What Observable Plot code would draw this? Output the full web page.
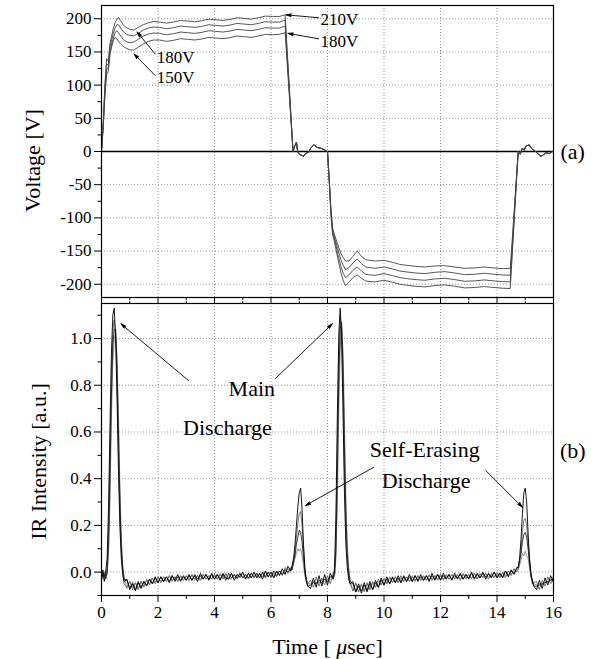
<!DOCTYPE html>
<html><head><meta charset="utf-8">
<script src="https://cdn.jsdelivr.net/npm/d3@7"></script>
<script src="https://cdn.jsdelivr.net/npm/@observablehq/plot@0.6"></script>
<style>
body{margin:0;background:#fff;}
#chart{position:relative;width:595px;height:659px;}
#chart svg{position:absolute;left:0;overflow:visible;}
#chart g[aria-label="arrow"] path{fill:#000 !important;stroke-linejoin:miter;}
</style></head><body><div id="chart"></div>
<script>
// ---------- Panel (a): applied voltage ----------
const tA = [0, 0.06, 0.12, 0.18, 0.24, 0.3, 0.36, 0.42, 0.48, 0.54,
  0.6, 0.68, 0.78, 0.9, 1.02, 1.14, 1.3, 1.48, 1.66, 1.85,
  2.05, 2.3, 2.55, 2.8, 3.05, 3.3, 3.55, 3.8, 4.05, 4.3,
  4.55, 4.8, 5.05, 5.3, 5.55, 5.8, 6.05, 6.3, 6.5, 6.78,
  6.83, 6.9, 6.95, 7.04, 7.16, 7.22, 7.34, 7.4, 7.52, 7.64,
  7.75, 7.87, 8.0, 8.06, 8.12, 8.18, 8.24, 8.3, 8.36, 8.42,
  8.48, 8.56, 8.64, 8.76, 8.9, 9.05, 9.2, 9.35, 9.5, 9.7,
  10.0, 10.3, 10.55, 10.8, 11.1, 11.45, 11.8, 12.15, 12.5, 12.85,
  13.2, 13.55, 13.9, 14.2, 14.47, 14.75, 14.82, 14.9, 14.96, 15.02,
  15.14, 15.2, 15.26, 15.37, 15.49, 15.55, 15.61, 15.73, 15.85, 15.97,
  16.0];
const va1 = [0, 42, 100, 140, 136, 163, 174, 186, 194, 199,
  202, 197, 190, 186, 184, 183, 187, 191, 194, 196,
  195, 193.5, 195, 197.5, 196.5, 195.5, 197, 199.5, 198.5, 197.5,
  199, 201.5, 200.5, 199.5, 201.5, 204, 203.5, 203.5, 206, 0,
  7, 14, -2, -5, -7, -3, -1, 5, 10, 6,
  5, 3, 0, -45, -95, -125, -135, -148, -160, -172,
  -183, -195, -202, -197, -190, -186, -191, -195, -196, -196.5,
  -194, -197, -200, -201.5, -203, -204, -202, -201, -203, -205.5,
  -205, -203.5, -205, -206, -206.5, 0, -4, 5, 2, 8,
  10, 6, 3, 0, -5, -7, -6, -2, -3, 0,
  0];
const va2 = [0, 40, 94, 132, 130, 157, 168, 178, 186, 191,
  191, 186, 180, 176, 175, 174, 178, 183, 186, 187.5,
  187, 185, 186.5, 189, 188, 187, 188.5, 191, 190, 189,
  190.5, 193, 192, 191, 193, 195.5, 195, 195, 198, 0,
  7, 14, -2, -5, -7, -3, -1, 5, 10, 6,
  5, 3, 0, -43, -92, -122, -131, -142, -153, -164,
  -174, -184, -190, -186, -179, -174, -180, -185, -186, -186.5,
  -184, -187, -190, -191.5, -193, -194, -192, -191, -193, -195.5,
  -195, -193.5, -195, -196, -196.5, 0, -4, 5, 2, 8,
  10, 6, 3, 0, -5, -7, -6, -2, -3, 0,
  0];
const va3 = [0, 38, 88, 124, 125, 151, 162, 171, 179, 182,
  179, 174, 168, 165, 164, 165, 169, 174, 177, 178.5,
  178, 176, 177.5, 180, 179, 178, 179.5, 182, 181, 180,
  181.5, 184, 183, 182, 184, 186.5, 186, 186, 189, 0,
  7, 14, -2, -5, -7, -3, -1, 5, 10, 6,
  5, 3, 0, -41, -89, -119, -128, -137, -146, -155,
  -164, -172, -178, -175, -168, -162, -169, -174, -175, -176,
  -174, -177, -180, -181.5, -183, -184, -182, -181, -183, -185.5,
  -185, -183.5, -185, -186, -186.5, 0, -4, 5, 2, 8,
  10, 6, 3, 0, -5, -7, -6, -2, -3, 0,
  0];
const va4 = [0, 36, 82, 116, 120, 146, 158, 167, 172, 170,
  166, 162, 158, 155, 153, 153, 157, 162, 166, 168,
  168, 166, 167.5, 170, 169, 168, 169.5, 172, 171, 170,
  171.5, 174, 173, 172, 174, 176.5, 176, 176.5, 179, 0,
  7, 14, -2, -5, -7, -3, -1, 5, 10, 6,
  5, 3, 0, -40, -85, -115, -124, -132, -140, -147,
  -154, -160, -165, -165, -158, -150, -158, -163, -164, -165,
  -164, -167, -170, -171.5, -173, -174, -172.5, -172, -174, -176,
  -175.5, -174, -175.5, -176.5, -176, 0, -4, 5, 2, 8,
  10, 6, 3, 0, -5, -7, -6, -2, -3, 0,
  0];

// ---------- Panel (b): IR intensity ----------
const tB = [0, 0.05, 0.1, 0.15, 0.2,
  0.25, 0.3, 0.35, 0.4, 0.45, 0.5, 0.55, 0.6, 0.65, 0.7, 0.75, 0.8,
  0.9, 1.0, 1.1, 1.2, 1.3, 1.4, 1.5, 1.6, 1.7, 1.8,
  1.9, 2.0, 2.1, 2.2, 2.3, 2.4, 2.5, 2.6, 2.7, 2.8,
  2.9, 3.0, 3.1, 3.2, 3.3, 3.4, 3.5, 3.6, 3.7, 3.8,
  3.9, 4.0, 4.1, 4.2, 4.3, 4.4, 4.5, 4.6, 4.7, 4.8,
  4.9, 5.0, 5.1, 5.2, 5.3, 5.4, 5.5, 5.6, 5.7, 5.8,
  5.9, 6.0, 6.1, 6.2, 6.3, 6.4, 6.5, 6.6, 6.7,
  6.75, 6.8, 6.85, 6.9, 6.95, 7.0, 7.05, 7.1, 7.15, 7.2, 7.25, 7.3,
  7.4, 7.5, 7.6, 7.7, 7.8, 7.9, 8.0, 8.1, 8.2,
  8.25, 8.3, 8.35, 8.4, 8.45, 8.5, 8.55, 8.6, 8.65, 8.7, 8.75, 8.8,
  8.9, 9.0, 9.1, 9.2, 9.3, 9.4, 9.5, 9.6, 9.7, 9.8,
  9.9, 10.0, 10.1, 10.2, 10.3, 10.4, 10.5, 10.6, 10.7, 10.8,
  10.9, 11.0, 11.1, 11.2, 11.3, 11.4, 11.5, 11.6, 11.7, 11.8,
  11.9, 12.0, 12.1, 12.2, 12.3, 12.4, 12.5, 12.6, 12.7, 12.8,
  12.9, 13.0, 13.1, 13.2, 13.3, 13.4, 13.5, 13.6, 13.7, 13.8,
  13.9, 14.0, 14.1, 14.2, 14.3, 14.4, 14.5, 14.6, 14.7,
  14.75, 14.8, 14.85, 14.9, 14.95, 15.0, 15.05, 15.1, 15.15, 15.2, 15.25, 15.3,
  15.4, 15.5, 15.6, 15.7, 15.8, 15.9, 16.0];
const ir1 = [-0.02, 0.01, -0.04, 0.0, 0.06,
  0.28, 0.62, 0.93, 1.10, 1.13, 1.00, 0.74, 0.44, 0.2, 0.06, -0.01, -0.04,
  -0.03, -0.075, -0.05, -0.08, -0.045, -0.07, -0.04, -0.06, -0.03, -0.05,
  -0.02, -0.045, -0.02, -0.04, -0.02, -0.045, -0.015, -0.035, -0.01, -0.04,
  -0.015, -0.035, -0.01, -0.035, -0.015, -0.04, -0.005, -0.03, -0.01, -0.035,
  -0.005, -0.03, -0.01, -0.035, -0.005, -0.025, -0.03, -0.005, -0.035, -0.01,
  -0.02, 0.0, -0.03, -0.005, -0.025, 0.0, -0.025, -0.005, -0.03, 0.005,
  -0.02, 0.0, -0.025, 0.005, -0.015, 0.015, -0.01, 0.025, 0.005,
  0.03, 0.06, 0.12, 0.2, 0.28, 0.34, 0.36, 0.27, 0.12, 0.02, -0.04, -0.06,
  -0.07, -0.025, -0.065, -0.015, -0.06, -0.01, -0.055, -0.005, -0.03,
  0.02, 0.25, 0.68, 1.02, 1.13, 1.0, 0.68, 0.34, 0.12, 0.02, -0.03, -0.05,
  -0.04, -0.085, -0.05, -0.09, -0.045, -0.08, -0.04, -0.075, -0.035, -0.065,
  -0.025, -0.055, -0.02, -0.05, -0.02, -0.045, -0.015, -0.045, -0.015, -0.04,
  -0.01, -0.04, -0.015, -0.04, -0.01, -0.035, -0.015, -0.04, -0.005, -0.035,
  -0.01, -0.035, -0.005, -0.03, -0.01, -0.035, -0.005, -0.03, -0.005, -0.03,
  -0.01, -0.03, 0.0, -0.03, -0.005, -0.025, 0.0, -0.03, -0.005, -0.025,
  0.0, -0.025, -0.005, -0.025, 0.005, -0.02, 0.01, -0.01, 0.02,
  0.02, 0.06, 0.14, 0.25, 0.34, 0.36, 0.3, 0.17, 0.06, 0.0, -0.04, -0.06,
  -0.075, -0.035, -0.07, -0.025, -0.055, -0.015, -0.045];
const ir2 = [-0.01, -0.03, 0.0, -0.02, 0.02,
  0.18, 0.5, 0.84, 1.03, 1.08, 1.03, 0.82, 0.52, 0.26, 0.09, 0.0, -0.05,
  -0.065, -0.04, -0.075, -0.045, -0.075, -0.04, -0.065, -0.03, -0.055, -0.025,
  -0.05, -0.02, -0.045, -0.02, -0.04, -0.015, -0.04, -0.02, -0.04, -0.015,
  -0.035, -0.015, -0.035, -0.01, -0.035, -0.015, -0.035, -0.01, -0.03, -0.015,
  -0.03, -0.01, -0.03, -0.01, -0.03, -0.005, -0.025, -0.03, -0.01, -0.03,
  -0.005, -0.025, -0.01, -0.03, -0.005, -0.025, -0.005, -0.025, -0.005, -0.025,
  0.0, -0.025, -0.005, -0.02, 0.005, -0.015, 0.02, -0.005, 0.02,
  0.02, 0.04, 0.09, 0.15, 0.21, 0.25, 0.26, 0.2, 0.1, 0.01, -0.03, -0.05,
  -0.035, -0.065, -0.02, -0.06, -0.025, -0.055, -0.015, -0.05, -0.005,
  0.0, 0.16, 0.55, 0.93, 1.1, 1.04, 0.78, 0.44, 0.18, 0.05, -0.02, -0.05,
  -0.08, -0.045, -0.085, -0.05, -0.085, -0.045, -0.075, -0.04, -0.065, -0.03,
  -0.055, -0.025, -0.05, -0.02, -0.045, -0.02, -0.045, -0.015, -0.04, -0.02,
  -0.04, -0.015, -0.04, -0.015, -0.035, -0.015, -0.035, -0.01, -0.035, -0.015,
  -0.035, -0.01, -0.035, -0.01, -0.03, -0.01, -0.03, -0.01, -0.035, -0.005,
  -0.03, -0.01, -0.03, -0.005, -0.03, -0.005, -0.025, -0.005, -0.03, -0.005,
  -0.025, -0.005, -0.025, 0.0, -0.025, 0.005, -0.015, 0.015, 0.0,
  0.01, 0.04, 0.1, 0.17, 0.22, 0.23, 0.2, 0.13, 0.05, -0.01, -0.05, -0.045,
  -0.04, -0.075, -0.035, -0.06, -0.02, -0.05, -0.015];
const ir3 = [0.0, -0.02, -0.01, -0.03, 0.0,
  0.12, 0.4, 0.75, 0.97, 1.04, 1.04, 0.88, 0.6, 0.32, 0.12, 0.02, -0.03,
  -0.035, -0.07, -0.045, -0.075, -0.04, -0.065, -0.04, -0.055, -0.03, -0.05,
  -0.025, -0.045, -0.02, -0.04, -0.02, -0.04, -0.015, -0.04, -0.02, -0.035,
  -0.02, -0.035, -0.015, -0.035, -0.01, -0.03, -0.015, -0.03, -0.01, -0.03,
  -0.01, -0.03, -0.01, -0.03, -0.01, -0.035, -0.005, -0.025, -0.01, -0.025,
  -0.005, -0.025, -0.01, -0.025, -0.005, -0.02, -0.005, -0.025, 0.0, -0.02,
  0.0, -0.02, 0.005, -0.015, 0.005, -0.01, 0.01, 0.0, 0.015,
  0.01, 0.05, 0.07, 0.12, 0.15, 0.18, 0.17, 0.13, 0.06, 0.0, -0.04, -0.06,
  -0.055, -0.045, -0.05, -0.035, -0.045, -0.03, -0.04, -0.02, -0.02,
  -0.01, 0.1, 0.42, 0.82, 1.04, 1.07, 0.88, 0.55, 0.25, 0.08, 0.0, -0.04,
  -0.05, -0.085, -0.06, -0.08, -0.055, -0.085, -0.05, -0.075, -0.045, -0.065,
  -0.035, -0.055, -0.03, -0.05, -0.025, -0.045, -0.025, -0.045, -0.02, -0.04,
  -0.02, -0.04, -0.015, -0.035, -0.02, -0.035, -0.015, -0.035, -0.015, -0.03,
  -0.01, -0.03, -0.015, -0.03, -0.01, -0.03, -0.015, -0.025, -0.01, -0.03,
  -0.01, -0.025, -0.005, -0.025, -0.01, -0.025, -0.005, -0.02, -0.01, -0.02,
  0.0, -0.02, -0.005, -0.02, 0.005, -0.015, 0.005, -0.005, 0.015,
  0.02, 0.05, 0.08, 0.13, 0.16, 0.17, 0.15, 0.1, 0.04, -0.02, -0.03, -0.06,
  -0.06, -0.055, -0.05, -0.045, -0.04, -0.035, -0.03];
const ir4 = [-0.03, 0.0, -0.02, 0.01, -0.01,
  0.08, 0.3, 0.65, 0.9, 1.0, 1.02, 0.92, 0.68, 0.38, 0.15, 0.03, -0.02,
  -0.07, -0.04, -0.065, -0.045, -0.07, -0.04, -0.06, -0.035, -0.05, -0.025,
  -0.045, -0.02, -0.04, -0.02, -0.04, -0.015, -0.035, -0.02, -0.04, -0.015,
  -0.035, -0.015, -0.035, -0.01, -0.03, -0.015, -0.035, -0.01, -0.03, -0.015,
  -0.03, -0.01, -0.03, -0.005, -0.025, -0.01, -0.03, -0.005, -0.025, -0.01,
  -0.025, -0.005, -0.025, -0.005, -0.025, 0.0, -0.02, -0.005, -0.02, 0.0,
  -0.02, 0.0, -0.02, 0.005, -0.01, 0.0, -0.005, 0.015, 0.0,
  0.02, 0.03, 0.06, 0.08, 0.1, 0.09, 0.1, 0.07, 0.03, -0.02, -0.03, -0.05,
  -0.05, -0.04, -0.045, -0.045, -0.035, -0.04, -0.03, -0.03, -0.025,
  -0.02, 0.06, 0.3, 0.7, 0.96, 1.05, 0.95, 0.64, 0.32, 0.12, 0.02, -0.03,
  -0.08, -0.05, -0.085, -0.055, -0.08, -0.05, -0.075, -0.045, -0.065, -0.04,
  -0.055, -0.03, -0.05, -0.025, -0.045, -0.02, -0.045, -0.025, -0.04, -0.02,
  -0.04, -0.02, -0.035, -0.015, -0.035, -0.02, -0.035, -0.015, -0.03, -0.015,
  -0.03, -0.01, -0.03, -0.015, -0.03, -0.01, -0.025, -0.015, -0.03, -0.01,
  -0.025, -0.01, -0.025, -0.005, -0.025, -0.01, -0.02, -0.005, -0.02, -0.01,
  -0.02, 0.0, -0.02, -0.005, -0.015, 0.005, -0.01, 0.01, 0.005,
  0.01, 0.03, 0.05, 0.08, 0.07, 0.09, 0.07, 0.06, 0.02, -0.02, -0.04, -0.05,
  -0.055, -0.05, -0.055, -0.04, -0.045, -0.03, -0.035];

// ---------- ticks ----------
const xMajor = [0, 2, 4, 6, 8, 10, 12, 14, 16];
const xMinor = [1, 3, 5, 7, 9, 11, 13, 15];
const xGrid = [2, 4, 6, 8, 10, 12, 14];
const vMajor = [-200, -150, -100, -50, 0, 50, 100, 150, 200];
const vMinor = [-175, -125, -75, -25, 25, 75, 125, 175];
const vGrid = [-200, -150, -100, -50, 50, 100, 150, 200];
const irMajor = [0, 0.2, 0.4, 0.6, 0.8, 1.0];
const irMinor = [-0.1, 0.1, 0.3, 0.5, 0.7, 0.9, 1.1];

// ---------- annotations (data units) ----------
const arrowsA = [
  {x1: 7.69, y1: 201.5, x2: 6.53, y2: 206},
  {x1: 7.69, y1: 169.8, x2: 6.6, y2: 178},
  {x1: 1.90, y1: 147, x2: 1.26, y2: 180},
  {x1: 1.90, y1: 114.5, x2: 1.15, y2: 147}
];
const labelsA = [
  {x: 7.75, y: 199, text: "210V"},
  {x: 7.75, y: 166, text: "180V"},
  {x: 1.96, y: 141.6, text: "180V"},
  {x: 1.96, y: 111.5, text: "150V"}
];
const arrowsB = [
  {x1: 3.08, y1: 0.82, x2: 0.69, y2: 1.063},
  {x1: 6.16, y1: 0.829, x2: 8.17, y2: 1.063},
  {x1: 9.64, y1: 0.449, x2: 7.22, y2: 0.285},
  {x1: 13.6, y1: 0.435, x2: 14.9, y2: 0.278}
];
const labelsB = [
  {x: 5.32, y: 0.786, text: "Main"},
  {x: 4.46, y: 0.619, text: "Discharge"},
  {x: 11.44, y: 0.525, text: "Self-Erasing"},
  {x: 11.49, y: 0.392, text: "Discharge"}
];

// ---------- build ----------
const serif = '"Liberation Serif", "Times New Roman", serif';
function series(t, v, name) {
  if (t.length !== v.length) console.error("length mismatch", name, t.length, v.length);
  return v.map((d, i) => ({t: t[i], v: d}));
}
const gridStyle = {stroke: "#777", strokeOpacity: 1, strokeWidth: 0.8, strokeDasharray: "1,2"};
const common = {
  width: 595,
  marginLeft: 101, marginRight: 42,
  style: {fontFamily: serif, fontSize: "17px", color: "#000", background: "transparent", overflow: "visible"},
  x: {domain: [0, 16]}
};
const arrowOpts = {x1: "x1", y1: "y1", x2: "x2", y2: "y2", stroke: "#000", strokeWidth: 0.9, headLength: 9, headAngle: 30};

const lineA = {x: "t", y: "v", stroke: "#444", strokeWidth: 0.9};
const pa = Plot.plot({
  ...common,
  height: 300, marginTop: 5, marginBottom: 3,
  y: {domain: [-220, 220]},
  marks: [
    Plot.gridX({ticks: xGrid, ...gridStyle}),
    Plot.gridY({ticks: vGrid, ...gridStyle}),
    Plot.ruleY([0], {stroke: "#000", strokeWidth: 1.5}),
    Plot.line(series(tA, va4, "va4"), lineA),
    Plot.line(series(tA, va3, "va3"), lineA),
    Plot.line(series(tA, va2, "va2"), lineA),
    Plot.line(series(tA, va1, "va1"), lineA),
    Plot.frame({stroke: "#000", strokeWidth: 1.2}),
    Plot.axisY({ticks: vMajor, tickSize: 7, tickPadding: 3, tickFormat: d => String(d), fontSize: 17, label: null}),
    Plot.axisY({ticks: vMinor, tickSize: 3.5, tickFormat: () => "", label: null}),
    Plot.axisX({ticks: xMajor, anchor: "bottom", tickSize: 4, tickFormat: () => "", label: null}),
    Plot.axisX({ticks: xMinor, anchor: "bottom", tickSize: 3, tickFormat: () => "", label: null}),
    Plot.text(["Voltage [V]"], {text: d => d, frameAnchor: "left", textAnchor: "middle", dx: -69, dy: 9, rotate: -90, fontSize: 22}),
    Plot.arrow(arrowsA, arrowOpts),
    Plot.text(labelsA, {x: "x", y: "y", text: "text", textAnchor: "start", fontSize: 17}),
    Plot.text(["(a)"], {text: d => d, x: 16.68, y: 0, fontSize: 22})
  ]
});

const pb = Plot.plot({
  ...common,
  height: 361, marginTop: 5, marginBottom: 64,
  y: {domain: [-0.1, 1.15]},
  marks: [
    Plot.gridX({ticks: xGrid, ...gridStyle}),
    Plot.gridY({ticks: irMajor, ...gridStyle}),
    Plot.line(series(tB, ir4, "ir4"), {x: "t", y: "v", stroke: "#8a8a8a", strokeWidth: 0.9}),
    Plot.line(series(tB, ir2, "ir2"), {x: "t", y: "v", stroke: "#666", strokeWidth: 0.9}),
    Plot.line(series(tB, ir3, "ir3"), {x: "t", y: "v", stroke: "#222", strokeWidth: 0.9}),
    Plot.line(series(tB, ir1, "ir1"), {x: "t", y: "v", stroke: "#000", strokeWidth: 0.9}),
    Plot.frame({stroke: "#000", strokeWidth: 1.2}),
    Plot.axisY({ticks: irMajor, tickSize: 7, tickPadding: 3, tickFormat: d => d.toFixed(1), fontSize: 17, label: null}),
    Plot.axisY({ticks: irMinor, tickSize: 3.5, tickFormat: () => "", label: null}),
    Plot.axisX({ticks: xMajor, anchor: "bottom", tickSize: 7, tickPadding: 3, tickFormat: d => String(d), fontSize: 17, label: null}),
    Plot.axisX({ticks: xMinor, anchor: "bottom", tickSize: 4, tickFormat: () => "", label: null}),
    Plot.axisX({ticks: xMajor, anchor: "top", tickSize: 3, tickFormat: () => "", label: null}),
    Plot.axisX({ticks: xMinor, anchor: "top", tickSize: 3, tickFormat: () => "", label: null}),
    Plot.text(["IR Intensity [a.u.]"], {text: d => d, frameAnchor: "left", textAnchor: "middle", dx: -63, dy: 12, rotate: -90, fontSize: 22}),
    Plot.text(["Time [ μsec]"], {text: d => d, frameAnchor: "bottom", dy: 58, fontSize: 22}),
    Plot.arrow(arrowsB, arrowOpts),
    Plot.text(labelsB, {x: "x", y: "y", text: "text", fontSize: 22}),
    Plot.text(["(b)"], {text: d => d, x: 16.68, y: 0.52, fontSize: 22})
  ]
});

// italic mu in the time-axis title
d3.select(pb).selectAll("text").filter(function () { return this.textContent === "Time [ μsec]"; })
  .each(function () {
    const t = d3.select(this);
    t.text(null);
    t.append("tspan").text("Time [ ");
    t.append("tspan").attr("font-style", "italic").text("μ");
    t.append("tspan").text("sec]");
  });
// solid arrowheads
[pa, pb].forEach(svg => d3.select(svg).selectAll('g[aria-label="arrow"]').attr("fill", "#000").selectAll("path").attr("fill", "#000"));

const host = document.getElementById("chart");
pa.style.top = "0px";
pb.style.top = "298px";
host.appendChild(pa);
host.appendChild(pb);
</script></body></html>
